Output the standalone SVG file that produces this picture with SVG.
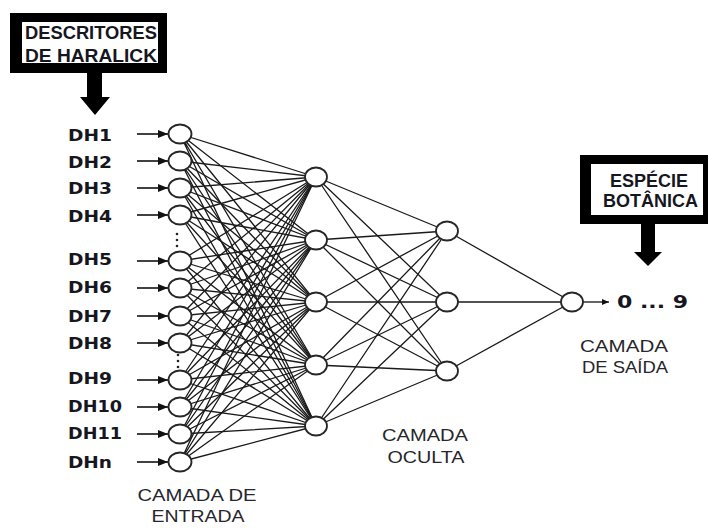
<svg xmlns="http://www.w3.org/2000/svg" width="709" height="528" viewBox="0 0 709 528">
<defs>
<style>
.edge{stroke:#1a1a1a;stroke-width:1.3;fill:none}
.node{fill:#fff;stroke:#262626;stroke-width:1.8}
.in{stroke:#111;stroke-width:1.6;fill:none}
.lab{font-family:"DejaVu Sans",sans-serif;font-weight:bold;font-size:15.5px;fill:#16161e}
.box{font-family:"Liberation Sans",Arial,sans-serif;font-weight:bold;font-size:18px;fill:#16161e}
.cap{font-family:"Liberation Sans",Arial,sans-serif;font-size:17px;fill:#26262c;text-anchor:middle}
.dot{fill:#222}
</style>
<marker id="ah" markerUnits="userSpaceOnUse" markerWidth="10" markerHeight="8" viewBox="0 0 10 8" refX="10" refY="4" orient="auto"><path d="M0,0 L10,4 L0,8 z" fill="#111"/></marker>
<marker id="ahs" markerUnits="userSpaceOnUse" markerWidth="7" markerHeight="6" viewBox="0 0 7 6" refX="7" refY="3" orient="auto"><path d="M0,0 L7,3 L0,6 z" fill="#111"/></marker>
</defs>
<rect width="709" height="528" fill="#fff"/>

<g id="connectors">
<g class="edge">
<path d="M180,134L316,177M180,134L316,240M180,134L316,302M180,134L316,365M180,134L316,426"/>
<path d="M180,161L316,177M180,161L316,240M180,161L316,302M180,161L316,365M180,161L316,426"/>
<path d="M180,188L316,177M180,188L316,240M180,188L316,302M180,188L316,365M180,188L316,426"/>
<path d="M180,215L316,177M180,215L316,240M180,215L316,302M180,215L316,365M180,215L316,426"/>
<path d="M180,261L316,177M180,261L316,240M180,261L316,302M180,261L316,365M180,261L316,426"/>
<path d="M180,288L316,177M180,288L316,240M180,288L316,302M180,288L316,365M180,288L316,426"/>
<path d="M180,316L316,177M180,316L316,240M180,316L316,302M180,316L316,365M180,316L316,426"/>
<path d="M180,343L316,177M180,343L316,240M180,343L316,302M180,343L316,365M180,343L316,426"/>
<path d="M180,380L316,177M180,380L316,240M180,380L316,302M180,380L316,365M180,380L316,426"/>
<path d="M180,407L316,177M180,407L316,240M180,407L316,302M180,407L316,365M180,407L316,426"/>
<path d="M180,434L316,177M180,434L316,240M180,434L316,302M180,434L316,365M180,434L316,426"/>
<path d="M180,462L316,177M180,462L316,240M180,462L316,302M180,462L316,365M180,462L316,426"/>
<path d="M316,177L447,231M316,177L447,302M316,177L447,371"/>
<path d="M316,240L447,231M316,240L447,302M316,240L447,371"/>
<path d="M316,302L447,231M316,302L447,302M316,302L447,371"/>
<path d="M316,365L447,231M316,365L447,302M316,365L447,371"/>
<path d="M316,426L447,231M316,426L447,302M316,426L447,371"/>
<path d="M447,231L572,302M447,302L572,302M447,371L572,302"/>
</g>
<g class="in">
<line x1="137" y1="134" x2="168" y2="134" marker-end="url(#ah)"/>
<line x1="137" y1="161" x2="168" y2="161" marker-end="url(#ah)"/>
<line x1="137" y1="188" x2="168" y2="188" marker-end="url(#ah)"/>
<line x1="137" y1="215" x2="168" y2="215" marker-end="url(#ah)"/>
<line x1="137" y1="261" x2="168" y2="261" marker-end="url(#ah)"/>
<line x1="137" y1="288" x2="168" y2="288" marker-end="url(#ah)"/>
<line x1="137" y1="316" x2="168" y2="316" marker-end="url(#ah)"/>
<line x1="137" y1="343" x2="168" y2="343" marker-end="url(#ah)"/>
<line x1="137" y1="380" x2="168" y2="380" marker-end="url(#ah)"/>
<line x1="137" y1="407" x2="168" y2="407" marker-end="url(#ah)"/>
<line x1="137" y1="434" x2="168" y2="434" marker-end="url(#ah)"/>
<line x1="137" y1="462" x2="168" y2="462" marker-end="url(#ah)"/>
<line x1="583" y1="302" x2="609" y2="302" stroke-width="1.3" marker-end="url(#ahs)"/>
</g>
</g>

<g id="input-layer">
<ellipse id="in1" class="node" cx="180" cy="134" rx="11.5" ry="9.5"/>
<ellipse id="in2" class="node" cx="180" cy="161" rx="11.5" ry="9.5"/>
<ellipse id="in3" class="node" cx="180" cy="188" rx="11.5" ry="9.5"/>
<ellipse id="in4" class="node" cx="180" cy="215" rx="11.5" ry="9.5"/>
<ellipse id="in5" class="node" cx="180" cy="261" rx="11.5" ry="9.5"/>
<ellipse id="in6" class="node" cx="180" cy="288" rx="11.5" ry="9.5"/>
<ellipse id="in7" class="node" cx="180" cy="316" rx="11.5" ry="9.5"/>
<ellipse id="in8" class="node" cx="180" cy="343" rx="11.5" ry="9.5"/>
<ellipse id="in9" class="node" cx="180" cy="380" rx="11.5" ry="9.5"/>
<ellipse id="in10" class="node" cx="180" cy="407" rx="11.5" ry="9.5"/>
<ellipse id="in11" class="node" cx="180" cy="434" rx="11.5" ry="9.5"/>
<ellipse id="inn" class="node" cx="180" cy="462" rx="11.5" ry="9.5"/>
<g class="dot">
<circle cx="177" cy="234" r="1.3"/><circle cx="177" cy="240" r="1.3"/><circle cx="177" cy="246" r="1.3"/>
<circle cx="178" cy="355" r="1.3"/><circle cx="178" cy="361" r="1.3"/><circle cx="178" cy="367" r="1.3"/>
</g>
</g>

<g id="input-labels">
<text class="lab" x="68" y="141" textLength="44" lengthAdjust="spacingAndGlyphs">DH1</text>
<text class="lab" x="68" y="168" textLength="44" lengthAdjust="spacingAndGlyphs">DH2</text>
<text class="lab" x="68" y="194" textLength="44" lengthAdjust="spacingAndGlyphs">DH3</text>
<text class="lab" x="68" y="222" textLength="44" lengthAdjust="spacingAndGlyphs">DH4</text>
<text class="lab" x="68" y="265" textLength="44" lengthAdjust="spacingAndGlyphs">DH5</text>
<text class="lab" x="68" y="293" textLength="44" lengthAdjust="spacingAndGlyphs">DH6</text>
<text class="lab" x="68" y="322" textLength="44" lengthAdjust="spacingAndGlyphs">DH7</text>
<text class="lab" x="68" y="349" textLength="44" lengthAdjust="spacingAndGlyphs">DH8</text>
<text class="lab" x="68" y="384" textLength="44" lengthAdjust="spacingAndGlyphs">DH9</text>
<text class="lab" x="68" y="412" textLength="54" lengthAdjust="spacingAndGlyphs">DH10</text>
<text class="lab" x="68" y="439" textLength="54" lengthAdjust="spacingAndGlyphs">DH11</text>
<text class="lab" x="68" y="468" textLength="44" lengthAdjust="spacingAndGlyphs">DHn</text>
</g>

<g id="hidden-layer-1">
<ellipse id="h1a" class="node" cx="316" cy="177" rx="11" ry="9.5"/>
<ellipse id="h1b" class="node" cx="316" cy="240" rx="11" ry="9.5"/>
<ellipse id="h1c" class="node" cx="316" cy="302" rx="11" ry="9.5"/>
<ellipse id="h1d" class="node" cx="316" cy="365" rx="11" ry="9.5"/>
<ellipse id="h1e" class="node" cx="316" cy="426" rx="11" ry="9.5"/>
</g>
<g id="hidden-layer-2">
<ellipse id="h2a" class="node" cx="447" cy="231" rx="11" ry="9.5"/>
<ellipse id="h2b" class="node" cx="447" cy="302" rx="11" ry="9.5"/>
<ellipse id="h2c" class="node" cx="447" cy="371" rx="11" ry="9.5"/>
</g>
<g id="output-node">
<ellipse class="node" cx="572" cy="302" rx="11" ry="9.5"/>
<text x="617" y="308" font-family="DejaVu Sans,sans-serif" font-weight="bold" font-size="17.5" fill="#16161e" textLength="71" lengthAdjust="spacingAndGlyphs">0 ... 9</text>
</g>

<g id="box-haralick">
<rect x="10" y="13" width="157" height="60" fill="#000"/>
<rect x="22" y="22" width="136" height="41" fill="#fff"/>
<text class="box" x="25" y="39" textLength="132" lengthAdjust="spacingAndGlyphs">DESCRITORES</text>
<text class="box" x="25" y="62" textLength="132" lengthAdjust="spacingAndGlyphs">DE HARALICK</text>
<polygon points="87,73 102,73 102,97 110,97 95,115 80,97 87,97" fill="#000"/>
</g>

<g id="box-especie">
<rect x="580" y="155" width="128" height="69" fill="#000"/>
<rect x="591" y="164" width="112" height="51" fill="#fff"/>
<text class="box" x="610" y="187" textLength="78" lengthAdjust="spacingAndGlyphs">ESPÉCIE</text>
<text class="box" x="603" y="207" textLength="95" lengthAdjust="spacingAndGlyphs">BOTÂNICA</text>
<polygon points="641,224 655,224 655,252 662,252 648,266 634,252 641,252" fill="#000"/>
</g>

<g id="layer-captions">
<text class="cap" x="197" y="501" textLength="119" lengthAdjust="spacingAndGlyphs">CAMADA DE</text>
<text class="cap" x="198" y="522" textLength="93" lengthAdjust="spacingAndGlyphs">ENTRADA</text>
<text class="cap" x="425" y="441" textLength="86" lengthAdjust="spacingAndGlyphs">CAMADA</text>
<text class="cap" x="426" y="463" textLength="77" lengthAdjust="spacingAndGlyphs">OCULTA</text>
<text class="cap" x="624" y="352" textLength="88" lengthAdjust="spacingAndGlyphs">CAMADA</text>
<text class="cap" x="625" y="373" textLength="86" lengthAdjust="spacingAndGlyphs">DE SAÍDA</text>
</g>
</svg>
